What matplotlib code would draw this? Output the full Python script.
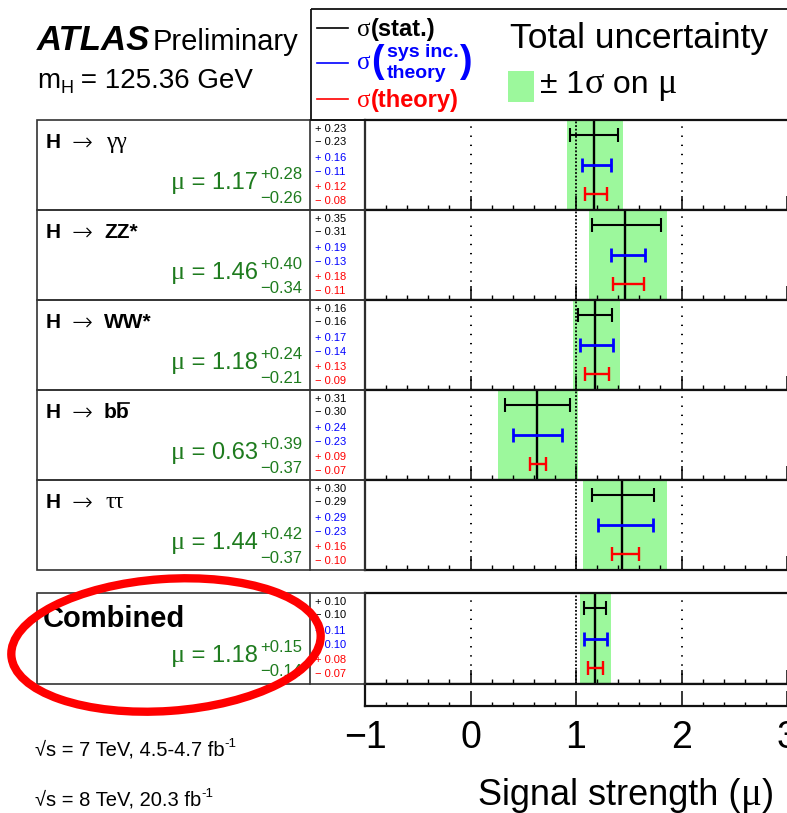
import matplotlib
matplotlib.use('Agg')
import matplotlib.pyplot as plt
from matplotlib.patches import Rectangle, Ellipse
from matplotlib.lines import Line2D
from matplotlib.ticker import MultipleLocator, FixedLocator

# ---------------- data ----------------
decays = ["γγ", "ZZ*", "WW*", "bb", "ττ"]
combined_label = "Combined"
mu = [1.17, 1.46, 1.18, 0.63, 1.44, 1.18]
tot_up = [0.28, 0.40, 0.24, 0.39, 0.42, 0.15]
tot_dn = [0.26, 0.34, 0.21, 0.37, 0.37, 0.14]
stat_up = [0.23, 0.35, 0.16, 0.31, 0.30, 0.10]
stat_dn = [0.23, 0.31, 0.16, 0.30, 0.29, 0.10]
sys_up = [0.16, 0.19, 0.17, 0.24, 0.29, 0.11]
sys_dn = [0.11, 0.13, 0.14, 0.23, 0.23, 0.10]
th_up = [0.12, 0.18, 0.13, 0.09, 0.16, 0.08]
th_dn = [0.08, 0.11, 0.09, 0.07, 0.10, 0.07]
xticks = [-1, 0, 1, 2, 3]
xticklabels = ["−1", "0", "1", "2", "3"]

# ---------------- style ----------------
plt.rcParams['font.family'] = ['Liberation Sans', 'DejaVu Sans']
SERIF = ['Liberation Serif', 'DejaVu Serif']
GREEN = '#9cf89c'
TGREEN = '#1e7b1e'
BLUE = '#0000ff'
RED = '#ff0000'

W, H = 787, 813
fig = plt.figure(figsize=(W / 100, H / 100), dpi=100)
renderer = fig.canvas.get_renderer()


def add_ax(x0, y0, x1, y1, **kw):
    return fig.add_axes([x0 / W, 1 - y1 / H, (x1 - x0) / W, (y1 - y0) / H], **kw)


tops = [120, 210, 300, 390, 480, 593]
bots = [210, 300, 390, 480, 570, 684]
XL, XR = 365, 787
rows_y = [0.833, 0.5, 0.178]


def style_panel(ax):
    ax.set_xlim(-1, 3)
    ax.set_ylim(0, 1)
    ax.set_yticks([])
    ax.xaxis.set_major_locator(FixedLocator(xticks))
    ax.xaxis.set_minor_locator(MultipleLocator(0.2))
    ax.tick_params(axis='x', which='major', direction='in', length=10, width=1.1,
                   labelbottom=False, top=False)
    ax.tick_params(axis='x', which='minor', direction='in', length=3.5, width=1.0, top=False)
    for s in ax.spines.values():
        s.set_linewidth(1.6)
        s.set_color('#111111')


for i in range(6):
    ax = add_ax(XL, tops[i], XR + 2, bots[i])
    style_panel(ax)
    ax.set_xlim(-1, 3 + 2 / 105.5)
    m = mu[i]
    ax.axvspan(m - tot_dn[i], m + tot_up[i], color=GREEN, lw=0, zorder=0)
    ax.axvline(0, color='k', lw=1.4, ls=(0, (0.7, 4.0)), zorder=1)
    ax.axvline(2, color='k', lw=1.4, ls=(0, (0.7, 4.0)), zorder=1)
    ax.axvline(1, color='k', lw=1.3, ls=(0, (1, 1)), zorder=1)
    ax.axvline(m, color='k', lw=1.7, zorder=2)
    ax.errorbar([m], [rows_y[0]], xerr=[[stat_dn[i]], [stat_up[i]]], color='k',
                lw=1.5, capsize=5, capthick=1.5, fmt='none', zorder=3)
    ax.errorbar([m], [rows_y[1]], xerr=[[sys_dn[i]], [sys_up[i]]], color=BLUE,
                lw=2.0, capsize=5, capthick=2.0, fmt='none', zorder=3)
    ax.errorbar([m], [rows_y[2]], xerr=[[th_dn[i]], [th_up[i]]], color=RED,
                lw=1.7, capsize=5, capthick=1.7, fmt='none', zorder=3)

# bottom axis with labels
axb = add_ax(XL, 684, XR + 2, 706)
style_panel(axb)
axb.set_xlim(-1, 3 + 2 / 105.5)
axb.set_xticks(xticks)
axb.set_xticklabels(xticklabels)
axb.tick_params(axis='x', which='major', length=11, labelbottom=True, labelsize=27, pad=10)
axb.tick_params(axis='x', which='minor', length=3)

# overlay in pixel coordinates
ov = fig.add_axes([0, 0, 1, 1], zorder=10)
ov.set_xlim(0, W)
ov.set_ylim(H, 0)
ov.axis('off')
ov.patch.set_alpha(0)


def seq(x, y, pieces, ha='left'):
    """Place text pieces one after another; baseline at y."""
    cur = x
    arts = []
    order = pieces if ha == 'left' else list(reversed(pieces))
    for s, kw in order:
        kw = dict(kw)
        dy = kw.pop('dy', 0)
        t = ov.text(cur, y + dy, s, ha=ha, va='baseline', **kw)
        bb = t.get_window_extent(renderer)
        cur = cur + bb.width if ha == 'left' else cur - bb.width
        arts.append(t)
    return arts


# header
seq(37, 50, [("ATLAS", dict(fontsize=25, fontweight='bold', fontstyle='italic')),
             (" ", dict(fontsize=6)),
             ("Preliminary", dict(fontsize=21))])
seq(37, 88, [("m", dict(fontsize=20)), ("H", dict(fontsize=13, dy=5)),
             (" = 125.36 GeV", dict(fontsize=20))])

ov.add_patch(Rectangle((311, 9), 500, 111, fill=False, lw=1.3, ec='#111111', zorder=5))
ov.add_line(Line2D([317, 348], [28, 28], color='k', lw=1.2))
seq(357, 36, [("σ", dict(fontsize=18, family=SERIF)),
              ("(stat.)", dict(fontsize=17, fontweight='bold'))])
ov.add_line(Line2D([317, 348], [63, 63], color=BLUE, lw=1.2))
ov.text(357, 63, "σ", fontsize=18, family=SERIF, color=BLUE, va='center', ha='left')
ov.text(371, 62, "(", fontsize=27, color=BLUE, va='center', ha='left', fontweight='bold')
ov.text(387, 57, "sys inc.", fontsize=14, color=BLUE, va='baseline', ha='left', fontweight='bold')
ov.text(387, 78, "theory", fontsize=14, color=BLUE, va='baseline', ha='left', fontweight='bold')
ov.text(459, 62, ")", fontsize=27, color=BLUE, va='center', ha='left', fontweight='bold')
ov.add_line(Line2D([317, 348], [99, 99], color=RED, lw=1.2))
seq(357, 107, [("σ", dict(fontsize=18, family=SERIF, color=RED)),
               ("(theory)", dict(fontsize=17, fontweight='bold', color=RED))])

ov.text(510, 48, "Total uncertainty", fontsize=25.5, va='baseline', ha='left')
ov.add_patch(Rectangle((508, 71), 26, 31, color=GREEN, lw=0))
seq(540, 93, [("± 1", dict(fontsize=23)), ("σ", dict(fontsize=26, family=SERIF)),
              (" on ", dict(fontsize=23)), ("μ", dict(fontsize=26, family=SERIF))])

# label boxes
for i in range(6):
    t0, b0 = tops[i], bots[i]
    ov.add_patch(Rectangle((37, t0), XL - 37, b0 - t0, fill=False, lw=1.2,
                           ec='#333333', zorder=4))
    ov.add_line(Line2D([310, 310], [t0, b0], color='#333333', lw=1.2))
    if i < 5:
        ov.text(46, t0 + 28, "H", fontsize=15, fontweight='bold', va='baseline', ha='left')
        ov.text(72, t0 + 31, "→", fontsize=18, family=['DejaVu Sans'], fontweight='light',
                va='baseline', ha='left')
        if i in (0, 4):
            dt = ov.text(106, t0 + 28, decays[i], fontsize=17, family=SERIF,
                         va='baseline', ha='left')
        else:
            dt = ov.text(104, t0 + 28, decays[i], fontsize=15, fontweight='bold',
                         va='baseline', ha='left')
        if decays[i] == "bb":
            bb = dt.get_window_extent(renderer)
            xm = bb.x0 + bb.width / 2
            ov.add_line(Line2D([xm + 1, bb.x1 - 1], [t0 + 13, t0 + 13], color='k', lw=1.2))
    else:
        ov.text(43, t0 + 34, combined_label, fontsize=21, fontweight='bold',
                va='baseline', ha='left')
    # mu value
    seq(258, t0 + 69, [("μ", dict(fontsize=19, family=SERIF, color=TGREEN)),
                       (" = %.2f" % mu[i], dict(fontsize=17, color=TGREEN))], ha='right')
    ov.text(302, t0 + 59, "+%.2f" % tot_up[i], fontsize=12, color=TGREEN,
            ha='right', va='baseline')
    ov.text(302, t0 + 83, "−%.2f" % tot_dn[i], fontsize=12, color=TGREEN,
            ha='right', va='baseline')
    # numbers column
    vals = [("+ %.2f" % stat_up[i], 'k'), ("− %.2f" % stat_dn[i], 'k'),
            ("+ %.2f" % sys_up[i], BLUE), ("− %.2f" % sys_dn[i], BLUE),
            ("+ %.2f" % th_up[i], RED), ("− %.2f" % th_dn[i], RED)]
    offs = [9, 22, 38, 52, 67, 81]
    for (s, c), o in zip(vals, offs):
        ov.text(315, t0 + o, s, fontsize=8, color=c, ha='left', va='center')

# bottom texts
seq(35, 755, [("√s = 7 TeV, 4.5-4.7 fb", dict(fontsize=14.5)), ("-1", dict(fontsize=9.5, dy=-8))])
seq(35, 805, [("√s = 8 TeV, 20.3 fb", dict(fontsize=14.5)), ("-1", dict(fontsize=9.5, dy=-8))])
seq(478, 805, [("Signal strength (", dict(fontsize=26)), ("μ", dict(fontsize=28, family=SERIF)),
               (")", dict(fontsize=26))])

# red ellipse
ov.add_patch(Ellipse((166, 645), 310, 132, angle=-4, fill=False, ec=RED, lw=6, zorder=20))

fig.savefig('out.png', dpi=100)
